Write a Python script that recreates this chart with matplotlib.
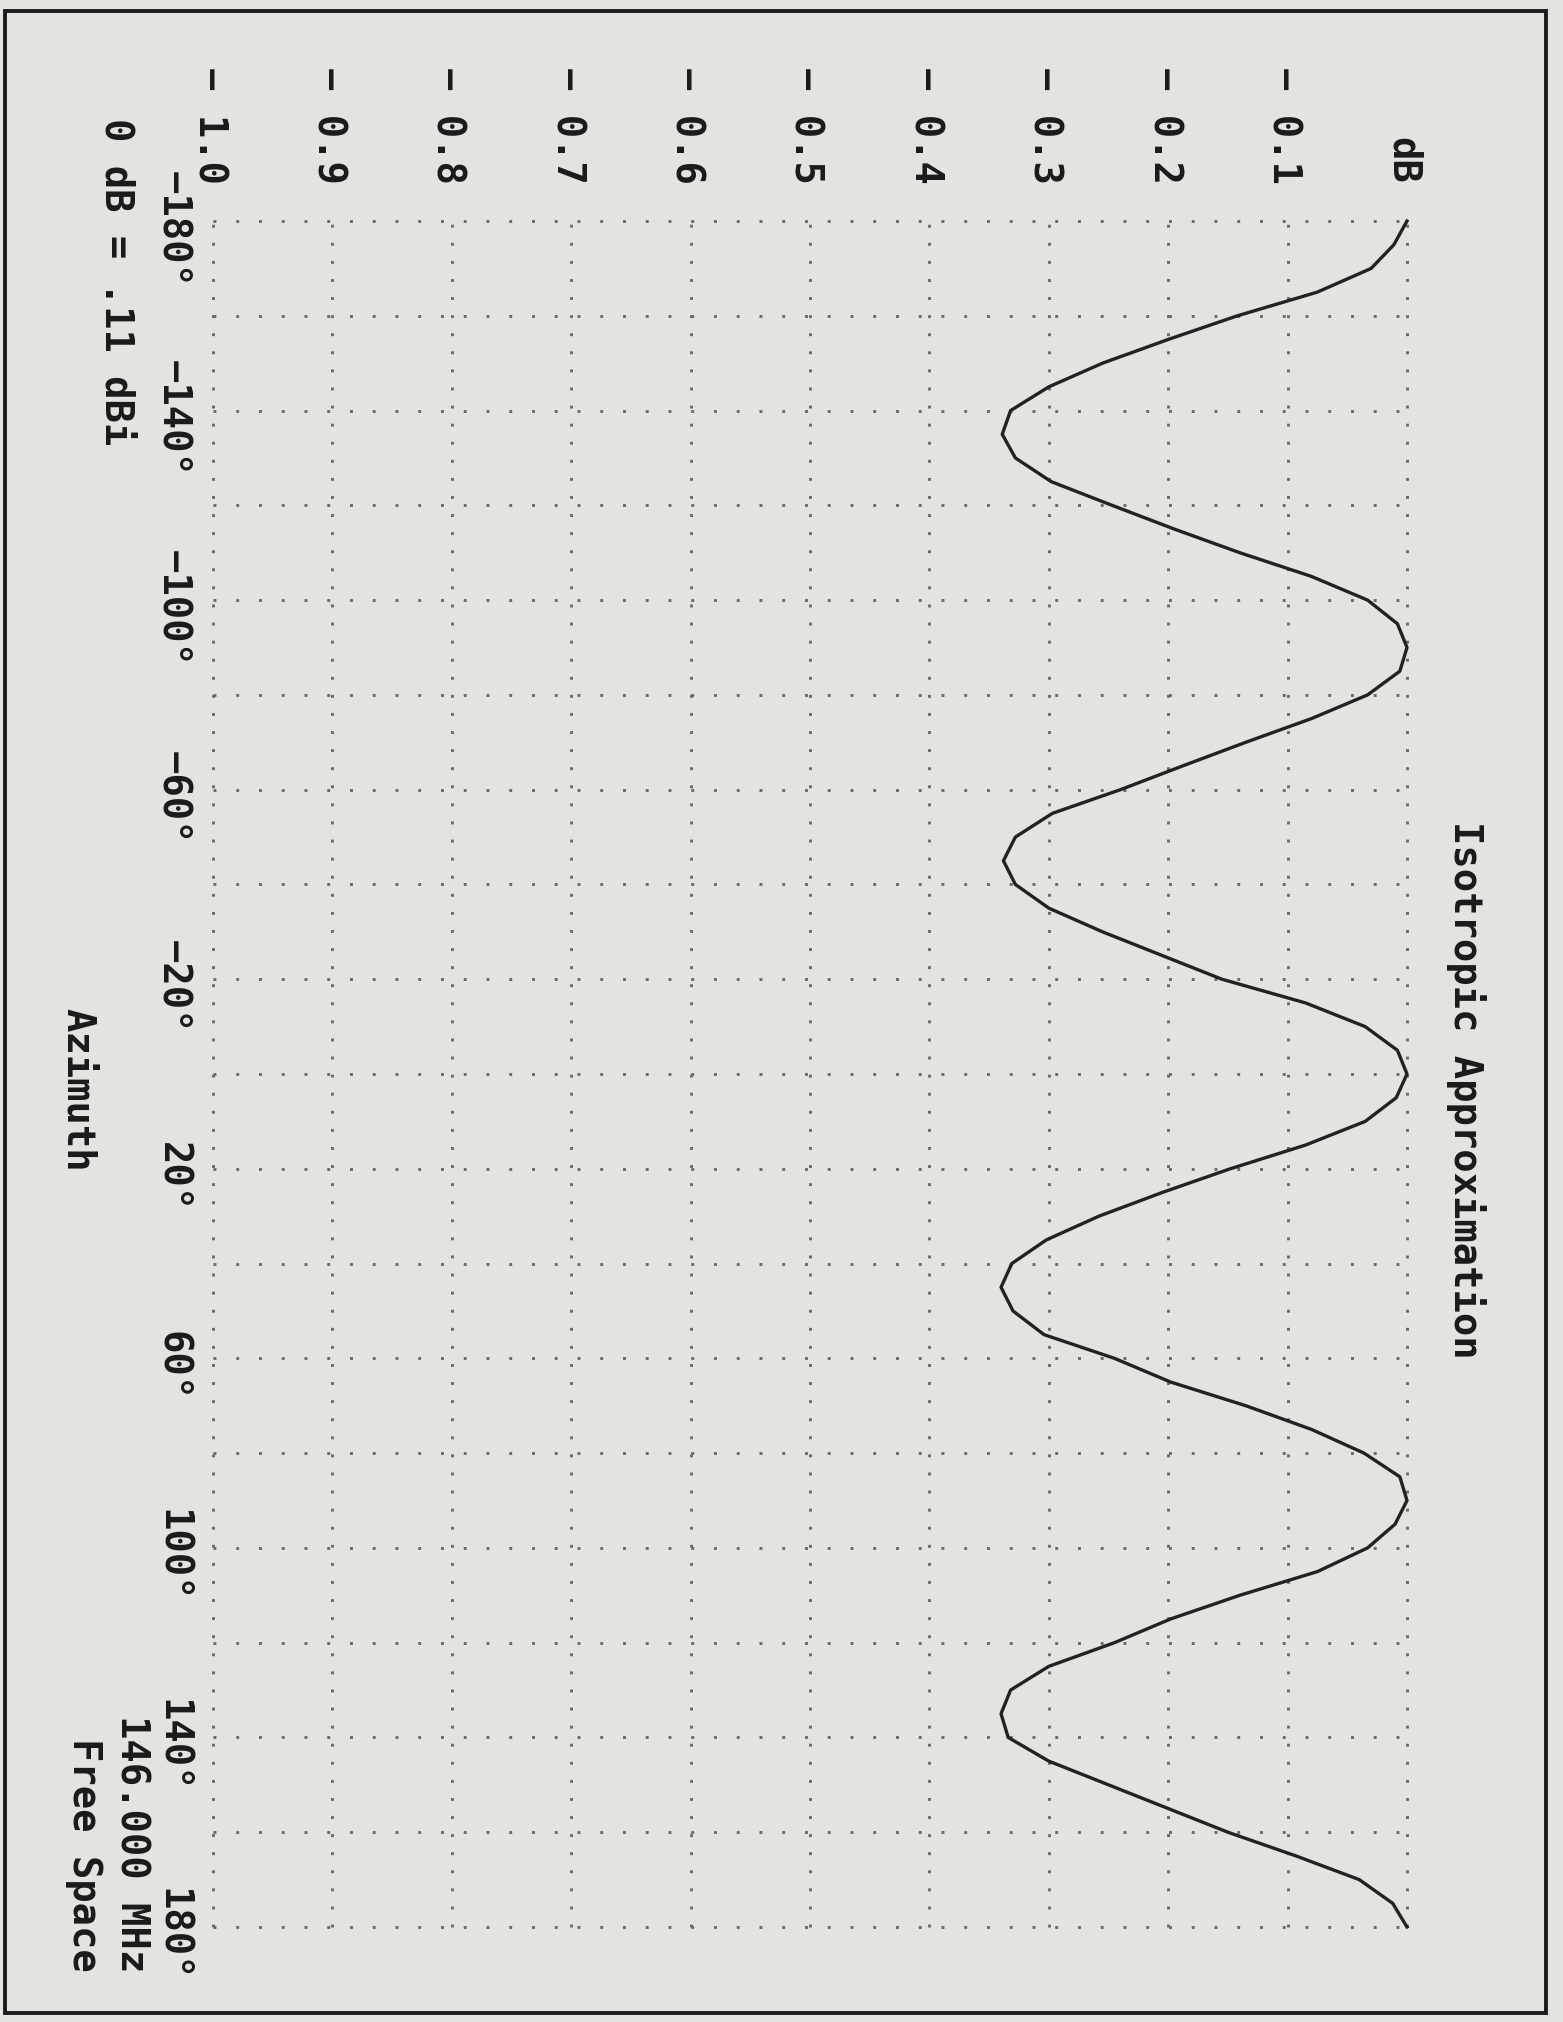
import matplotlib
matplotlib.use("Agg")
import matplotlib.pyplot as plt
import matplotlib.transforms as mtransforms
from matplotlib.patches import Rectangle

# ---------------- data ----------------
azimuth_deg = [-180, -175, -170, -165, -160, -155, -150, -145, -140, -135,
               -130, -125, -120, -115, -110, -105, -100, -95, -90, -85,
               -80, -75, -70, -65, -60, -55, -50, -45, -40, -35,
               -30, -25, -20, -15, -10, -5, 0, 5, 10, 15,
               20, 25, 30, 35, 40, 45, 50, 55, 60, 65,
               70, 75, 80, 85, 90, 95, 100, 105, 110, 115,
               120, 125, 130, 135, 140, 145, 150, 155, 160, 165,
               170, 175, 180]
gain_db = [0.000, -0.011, -0.030, -0.075, -0.142, -0.200, -0.255, -0.300, -0.332, -0.339,
           -0.328, -0.298, -0.247, -0.195, -0.140, -0.080, -0.033, -0.008, 0.000, -0.006,
           -0.033, -0.080, -0.135, -0.188, -0.240, -0.297, -0.328, -0.338, -0.328, -0.300,
           -0.255, -0.205, -0.155, -0.085, -0.035, -0.008, 0.000, -0.009, -0.035, -0.085,
           -0.148, -0.205, -0.258, -0.302, -0.331, -0.340, -0.330, -0.304, -0.245, -0.198,
           -0.135, -0.080, -0.036, -0.006, 0.000, -0.010, -0.033, -0.075, -0.140, -0.198,
           -0.245, -0.300, -0.332, -0.340, -0.334, -0.300, -0.250, -0.200, -0.150, -0.093,
           -0.040, -0.012, 0.000]

db_ticks = [0.0, -0.1, -0.2, -0.3, -0.4, -0.5, -0.6, -0.7, -0.8, -0.9, -1.0]
db_labels = ["dB", "− 0.1", "− 0.2", "− 0.3", "− 0.4", "− 0.5",
             "− 0.6", "− 0.7", "− 0.8", "− 0.9", "− 1.0"]
az_grid = [-180, -160, -140, -120, -100, -80, -60, -40, -20, 0,
           20, 40, 60, 80, 100, 120, 140, 160, 180]
az_ticks = [-180, -140, -100, -60, -20, 20, 60, 100, 140, 180]
az_labels = ["−180°", "−140°", "−100°", "−60°", "−20°",
             "20°", "60°", "100°", "140°", "180°"]

title = "Isotropic Approximation"
xlabel = "Azimuth"
note_ref = "0 dB = .11 dBi"
note_freq = "146.000 MHz"
note_env = "Free Space"

# ---------------- layout ----------------
W, H = 1563, 2022
BG = "#e3e4e0"
INK = "#1a1a1a"
FONT = "DejaVu Sans Mono"
FS = 28
FW = "bold"

def fx(px):
    return px / W

def fy(py):
    return 1 - py / H

fig = plt.figure(figsize=(W / 100, H / 100), dpi=100)
fig.patch.set_facecolor(BG)

ax = fig.add_axes([fx(213), fy(1927), fx(1407) - fx(213), fy(221) - fy(1927)])
ax.set_xlim(-1.0, 0.0)
ax.set_ylim(180, -180)
ax.axis("off")

# dotted grid (including borders)
for v in db_ticks:
    ax.axvline(v, color="#6a6a6a", lw=2.1, linestyle=(0, (1, 5.2)), clip_on=False, zorder=1)
for a in az_grid:
    ax.axhline(a, color="#6a6a6a", lw=2.1, linestyle=(0, (1, 6.8)), clip_on=False, zorder=1)

# curve
ax.plot(gain_db, azimuth_deg, color="#222222", lw=2.4, solid_joinstyle="round",
        clip_on=False, zorder=3)

# dB tick labels (rotated, ending just above the plot)
tr_x = mtransforms.blended_transform_factory(ax.transData, fig.transFigure)
tr_x = mtransforms.offset_copy(tr_x, fig=fig, x=-4, y=0, units="dots")
for v, lab in zip(db_ticks, db_labels):
    ax.text(v, fy(184), lab, transform=tr_x, rotation=-90, ha="center", va="bottom",
            fontsize=FS, family=FONT, fontweight=FW, color=INK)

# azimuth tick labels
tr_y = mtransforms.blended_transform_factory(fig.transFigure, ax.transData)
tr_y = mtransforms.offset_copy(tr_y, fig=fig, x=0, y=-8, units="dots")
for a, lab in zip(az_ticks, az_labels):
    ax.text(fx(172), a, lab, transform=tr_y, rotation=-90, ha="center", va="center",
            fontsize=FS, family=FONT, fontweight=FW, color=INK)

# other texts
fig.text(fx(1466), fy(1090), title, rotation=-90, ha="center", va="center",
         fontsize=FS, family=FONT, fontweight=FW, color=INK)
fig.text(fx(78), fy(1090), xlabel, rotation=-90, ha="center", va="center",
         fontsize=FS, family=FONT, fontweight=FW, color=INK)
fig.text(fx(116), fy(118), note_ref, rotation=-90, ha="center", va="top",
         fontsize=FS, family=FONT, fontweight=FW, color=INK)
fig.text(fx(131), fy(1972), note_freq, rotation=-90, ha="center", va="bottom",
         fontsize=FS, family=FONT, fontweight=FW, color=INK)
fig.text(fx(84), fy(1972), note_env, rotation=-90, ha="center", va="bottom",
         fontsize=FS, family=FONT, fontweight=FW, color=INK)

# outer frame
fig.add_artist(Rectangle((fx(5), fy(2013)), fx(1546) - fx(5), fy(11) - fy(2013),
                         transform=fig.transFigure, fill=False, ec="#1a1a1a", lw=2.8))

fig.savefig("out.png", dpi=100, facecolor=BG)
